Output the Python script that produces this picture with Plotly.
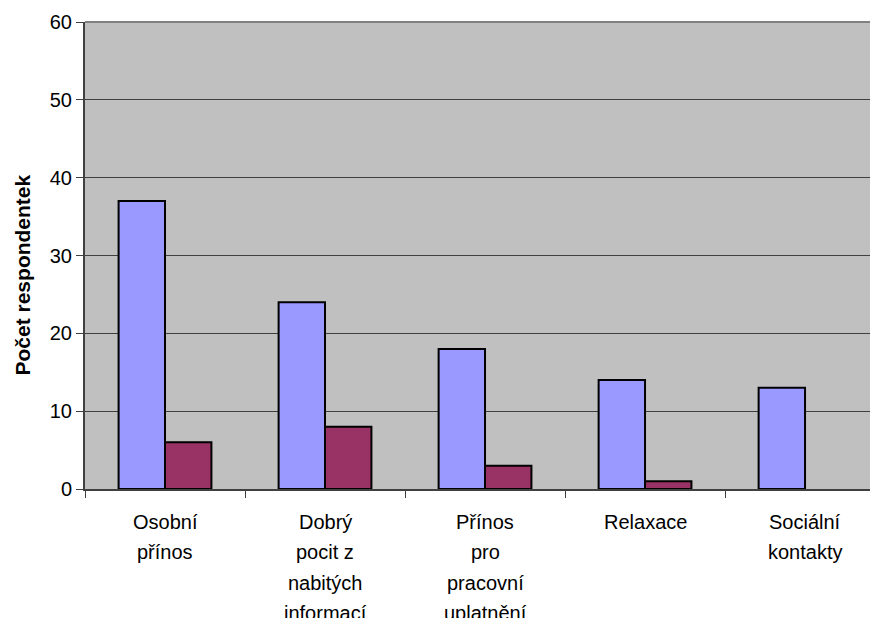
import plotly.graph_objects as go

# Categories and the lines their labels are broken into
categories = [
    "Osobní přínos",
    "Dobrý pocit z nabitých informací",
    "Přínos pro pracovní uplatnění",
    "Relaxace",
    "Sociální kontakty",
]
label_lines = [
    ["Osobní", "přínos"],
    ["Dobrý", "pocit z", "nabitých", "informací"],
    ["Přínos", "pro", "pracovní", "uplatnění"],
    ["Relaxace"],
    ["Sociální", "kontakty"],
]

# Number of respondents per category for the two series
series_a = [37, 24, 18, 14, 13]
series_b = [6, 8, 3, 1, 0]

y_ticks = [0, 10, 20, 30, 40, 50, 60]
y_title = "Počet respondentek"

FONT = "Liberation Sans, Arial, sans-serif"


def outline_widths(values):
    # an empty bar gets no outline, so nothing is drawn for it
    return [2 if v > 0 else 0 for v in values]


fig = go.Figure()
fig.add_trace(go.Bar(
    name="Řada 1", x=categories, y=series_a,
    marker=dict(color="#9999FF",
                line=dict(color="#000000", width=outline_widths(series_a))),
))
fig.add_trace(go.Bar(
    name="Řada 2", x=categories, y=series_b,
    marker=dict(color="#993366",
                line=dict(color="#000000", width=outline_widths(series_b))),
))

# Multi-line category labels below the axis
for i, lines in enumerate(label_lines):
    for j, line in enumerate(lines):
        fig.add_annotation(
            x=categories[i], xref="x", y=0, yref="paper",
            text=line, showarrow=False, xanchor="center", yanchor="middle",
            yshift=-(33 + 30.3 * j),
            font=dict(family=FONT, size=20, color="#000000"),
        )

# Rotated y-axis title
fig.add_annotation(
    x=0, xref="paper", y=0.5, yref="paper", xshift=-63, yshift=-20,
    text="<b>" + y_title + "</b>", textangle=-90, showarrow=False,
    xanchor="center", yanchor="middle",
    font=dict(family=FONT, size=21, color="#000000"),
)

# Top border of the plot area
fig.add_shape(type="line", xref="paper", yref="paper", x0=0, x1=1, y0=1, y1=1,
              line=dict(color="#808080", width=2))

fig.update_layout(
    width=870, height=618,
    margin=dict(l=85, r=0, t=22, b=129),
    paper_bgcolor="#FFFFFF", plot_bgcolor="#C0C0C0",
    barmode="group", bargap=0.42, bargroupgap=0,
    showlegend=False,
    font=dict(family=FONT, size=20, color="#000000"),
    xaxis=dict(
        type="category", range=[-0.5, 4.406],
        showticklabels=False, ticks="outside", tickson="boundaries",
        ticklen=7, tickcolor="#404040", tickwidth=1,
        showline=True, linecolor="#404040", linewidth=2,
        showgrid=False, zeroline=False,
    ),
    yaxis=dict(
        range=[0, 60], tickvals=y_ticks,
        ticks="outside", ticklen=7, tickcolor="#404040", tickwidth=1,
        showline=True, linecolor="#404040", linewidth=2,
        showgrid=True, gridcolor="#404040", gridwidth=1,
        zeroline=False,
        tickfont=dict(family=FONT, size=20, color="#000000"),
    ),
)

fig.write_html("out.html")
